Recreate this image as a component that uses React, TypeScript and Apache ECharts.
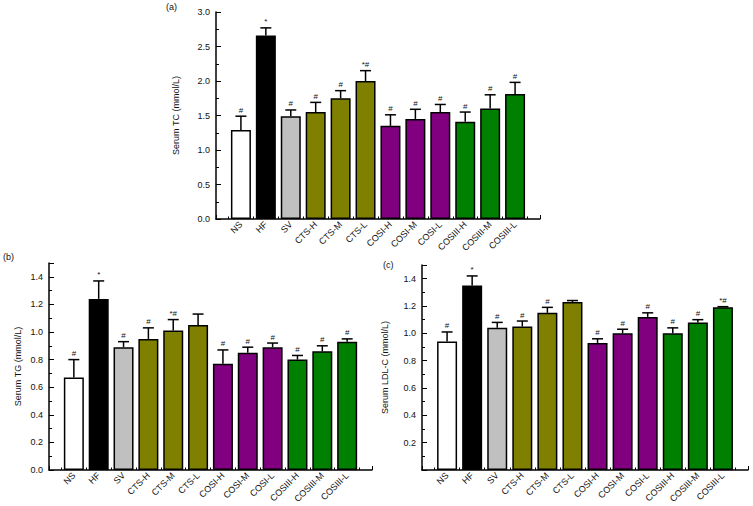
import React, { useEffect, useRef } from "react";
import * as echarts from "echarts";

const categories = ["NS", "HF", "SV", "CTS-H", "CTS-M", "CTS-L", "COSI-H", "COSI-M", "COSI-L", "COSIII-H", "COSIII-M", "COSIII-L"];
const barColors = ["#ffffff", "#000000", "#c0c0c0", "#808000", "#808000", "#808000", "#800080", "#800080", "#800080", "#008000", "#008000", "#008000"];

const tcMean = [1.29, 2.66, 1.49, 1.55, 1.75, 2.0, 1.35, 1.45, 1.55, 1.41, 1.6, 1.81];
const tcSD = [0.2, 0.11, 0.09, 0.14, 0.11, 0.15, 0.16, 0.14, 0.11, 0.14, 0.2, 0.17];
const tcMarks = ["#", "*", "#", "#", "#", "*#", "#", "#", "#", "#", "#", "#"];

const tgMean = [0.67, 1.24, 0.89, 0.95, 1.01, 1.05, 0.77, 0.85, 0.89, 0.8, 0.86, 0.93];
const tgSD = [0.13, 0.13, 0.04, 0.08, 0.08, 0.08, 0.1, 0.04, 0.03, 0.03, 0.04, 0.02];
const tgMarks = ["#", "*", "#", "#", "*#", "", "#", "#", "#", "#", "#", "#"];

const ldlMean = [0.94, 1.35, 1.04, 1.05, 1.15, 1.23, 0.93, 1.0, 1.12, 1.0, 1.08, 1.19];
const ldlSD = [0.07, 0.07, 0.04, 0.04, 0.04, 0.01, 0.03, 0.03, 0.03, 0.04, 0.02, 0.005];
const ldlMarks = ["#", "*", "#", "#", "#", "", "#", "#", "#", "#", "#", "*#"];

const FONT = "Liberation Sans, Arial, Helvetica, sans-serif";

export default function App() {
  const ref = useRef<HTMLDivElement>(null);
  useEffect(() => {
    if (!ref.current) return;
    const chart = echarts.init(ref.current, undefined, { renderer: "svg" });

    const panels = [
      { mean: tcMean, sd: tcSD, marks: tcMarks, name: "Serum TC (mmol/L)", grid: { left: 216, top: 12, width: 324, height: 207 }, max: 3.0, interval: 0.5, nameGap: 36, showMin: true },
      { mean: tgMean, sd: tgSD, marks: tgMarks, name: "Serum TG (mmol/L)", grid: { left: 49, top: 263, width: 323, height: 207 }, max: 1.5, interval: 0.2, nameGap: 27, showMin: true },
      { mean: ldlMean, sd: ldlSD, marks: ldlMarks, name: "Serum LDL-C (mmol/L)", grid: { left: 422, top: 265, width: 326, height: 205 }, max: 1.5, interval: 0.2, nameGap: 33, showMin: false },
    ];

    const grid: any[] = [];
    const xAxis: any[] = [];
    const yAxis: any[] = [];
    const series: any[] = [];

    panels.forEach((p, k) => {
      grid.push({ ...p.grid, containLabel: false });
      xAxis.push({
        type: "value",
        gridIndex: k,
        min: 0,
        max: 13,
        interval: 1,
        splitLine: { show: false },
        axisLine: { show: true, lineStyle: { color: "#000", width: 1.5 } },
        axisTick: { show: true, inside: true, length: 4, lineStyle: { color: "#000", width: 1 } },
        minorTick: { show: true, splitNumber: 2, length: 2.5, lineStyle: { color: "#000", width: 1 } },
        minorSplitLine: { show: false },
        axisLabel: {
          rotate: 45,
          fontSize: 9,
          fontFamily: FONT,
          color: "#111",
          margin: 4,
          formatter: (v: number) => (v >= 1 && v <= 12 && Math.round(v) === v ? categories[v - 1] : ""),
        },
      });
      yAxis.push({
        type: "value",
        gridIndex: k,
        min: 0,
        max: p.max,
        interval: p.interval,
        name: p.name,
        nameLocation: "middle",
        nameGap: p.nameGap,
        nameTextStyle: { fontSize: 9, fontFamily: FONT, color: "#111" },
        splitLine: { show: false },
        axisLine: { show: true, lineStyle: { color: "#000", width: 1.5 } },
        axisTick: { show: true, inside: true, length: 5, lineStyle: { color: "#000", width: 1 } },
        minorTick: { show: true, splitNumber: 2, length: 3, lineStyle: { color: "#000", width: 1 } },
        minorSplitLine: { show: false },
        axisLabel: {
          fontSize: 9,
          fontFamily: FONT,
          color: "#111",
          margin: 6,
          showMaxLabel: p.max === 3.0,
          showMinLabel: p.showMin,
          formatter: (v: number) => v.toFixed(1),
        },
      });
      series.push({
        type: "bar",
        xAxisIndex: k,
        yAxisIndex: k,
        barWidth: 20,
        data: categories.map((c, i) => ({
          value: [i + 1, p.mean[i]],
          itemStyle: { color: barColors[i], borderColor: "#000", borderWidth: 1.5 },
        })),
        z: 2,
      });
      const marks = p.marks;
      series.push({
        type: "custom",
        xAxisIndex: k,
        yAxisIndex: k,
        z: 5,
        data: categories.map((c, i) => [i + 1, p.mean[i], p.mean[i] + p.sd[i]]),
        renderItem: (params: any, api: any) => {
          const x = api.value(0);
          const v = api.value(1);
          const u = api.value(2);
          const p0 = api.coord([x, v]);
          const p1 = api.coord([x, u]);
          const cap = 5.5;
          const children: any[] = [
            { type: "line", shape: { x1: p0[0], y1: p0[1], x2: p1[0], y2: p1[1] }, style: { stroke: "#000", lineWidth: 1.5 } },
            { type: "line", shape: { x1: p1[0] - cap, y1: p1[1], x2: p1[0] + cap, y2: p1[1] }, style: { stroke: "#000", lineWidth: 1.5 } },
          ];
          const t = marks[params.dataIndex];
          if (t) {
            children.push({
              type: "text",
              x: p1[0],
              y: p1[1] - 2,
              style: { text: t, fontSize: 8, fontFamily: FONT, fill: "#111", align: "center", verticalAlign: "bottom" },
            });
          }
          return { type: "group", children };
        },
      });
    });

    chart.setOption({
      animation: false,
      backgroundColor: "#ffffff",
      grid,
      xAxis,
      yAxis,
      series,
      graphic: [
        { type: "text", left: 166, top: 2, style: { text: "(a)", fontSize: 9, fontFamily: FONT, fill: "#111" } },
        { type: "text", left: 3, top: 252, style: { text: "(b)", fontSize: 9, fontFamily: FONT, fill: "#111" } },
        { type: "text", left: 383, top: 260, style: { text: "(c)", fontSize: 9, fontFamily: FONT, fill: "#111" } },
      ],
    });
    return () => chart.dispose();
  }, []);
  return <div ref={ref} style={{ position: "fixed", left: 0, top: 0, width: 753, height: 506 }} />;
}
